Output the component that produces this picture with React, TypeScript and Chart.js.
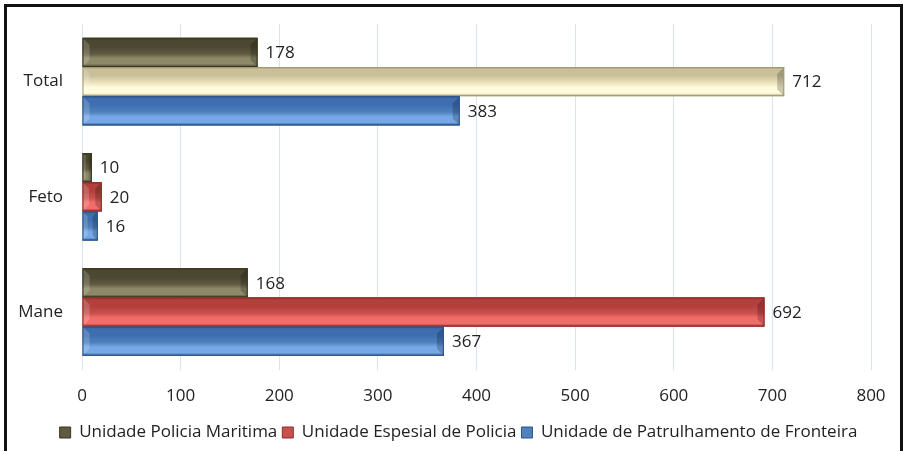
import React, { useEffect, useRef } from "react";
import { Chart, registerables } from "chart.js";

Chart.register(...registerables);

const categories = ["Total", "Feto", "Mane"];
const seriesNames = [
  "Unidade Policia Maritima",
  "Unidade Espesial de Policia",
  "Unidade de Patrulhamento de Fronteira",
];
const maritima = [178, 10, 168];
const espesial = [712, 20, 692];
const fronteira = [383, 16, 367];
const xTicks = [0, 100, 200, 300, 400, 500, 600, 700, 800];

const FONT = "'Open Sans', 'Noto Sans', sans-serif";

type Pal = { edge: string; dark: string; mid: string; light: string };
const olive: Pal = { edge: "#3a3722", dark: "#4b4731", mid: "#5f5a40", light: "#8d8867" };
const red: Pal = { edge: "#8e2f2c", dark: "#b3403c", mid: "#c9514d", light: "#f26d69" };
const cream: Pal = { edge: "#a39a74", dark: "#c9c09a", mid: "#ebe4be", light: "#fffbdc" };
const blue: Pal = { edge: "#2e5587", dark: "#3e6eb0", mid: "#4f81bd", light: "#76a8e8" };
const legendPals = [olive, red, blue];

function palFor(ds: number, idx: number): Pal {
  if (ds === 0) return olive;
  if (ds === 1) return idx === 0 ? cream : red;
  return blue;
}

const legendShift = {
  id: "legendShift",
  afterLayout(chart: any) {
    if (chart.legend) {
      chart.legend.left += 19;
      chart.legend.right += 19;
    }
  },
};

const bevelPlugin = {
  id: "bevel",
  afterDatasetsDraw(chart: any) {
    const ctx = chart.ctx;
    chart.data.datasets.forEach((d: any, di: number) => {
      const meta = chart.getDatasetMeta(di);
      meta.data.forEach((el: any, i: number) => {
        const p = el.getProps(["x", "y", "base", "height"], true);
        const left = Math.min(p.base, p.x);
        const right = Math.max(p.base, p.x);
        const top = p.y - p.height / 2;
        const bottom = p.y + p.height / 2;
        const h = bottom - top;
        const w = right - left;
        const pal = palFor(di, i);
        const g = ctx.createLinearGradient(0, top, 0, bottom);
        g.addColorStop(0, pal.edge);
        g.addColorStop(0.08, pal.dark);
        g.addColorStop(0.3, pal.dark);
        g.addColorStop(0.55, pal.mid);
        g.addColorStop(0.7, pal.light);
        g.addColorStop(0.9, pal.light);
        g.addColorStop(1, pal.edge);
        ctx.save();
        ctx.fillStyle = g;
        ctx.fillRect(left, top, w, h);
        const b = Math.min(7, w / 3, h / 3);
        ctx.fillStyle = "rgba(0,0,0,0.2)";
        ctx.beginPath();
        ctx.moveTo(right, top);
        ctx.lineTo(right - b, top + b);
        ctx.lineTo(right - b, bottom - b);
        ctx.lineTo(right, bottom);
        ctx.closePath();
        ctx.fill();
        ctx.fillStyle = "rgba(255,255,255,0.18)";
        ctx.beginPath();
        ctx.moveTo(left, top);
        ctx.lineTo(left + b, top + b);
        ctx.lineTo(left + b, bottom - b);
        ctx.lineTo(left, bottom);
        ctx.closePath();
        ctx.fill();
        ctx.strokeStyle = pal.edge;
        ctx.lineWidth = 1;
        ctx.strokeRect(left + 0.5, top + 0.5, w - 1, h - 1);
        ctx.fillStyle = "#222";
        ctx.font = `17px ${FONT}`;
        ctx.textAlign = "left";
        ctx.textBaseline = "middle";
        ctx.fillText(String(d.data[i]), right + 8, p.y + 1);
        ctx.restore();
      });
    });
  },
};

export default function App() {
  const ref = useRef<HTMLCanvasElement | null>(null);
  useEffect(() => {
    if (!ref.current) return;
    const chart = new Chart(ref.current, {
      type: "bar",
      data: {
        labels: categories,
        datasets: [
          { label: seriesNames[0], data: maritima, backgroundColor: olive.mid },
          {
            label: seriesNames[1],
            data: espesial,
            backgroundColor: (c: any) => (c.type === "data" && c.dataIndex === 0 ? cream.mid : red.mid),
          },
          { label: seriesNames[2], data: fronteira, backgroundColor: blue.mid },
        ],
      },
      options: {
        indexAxis: "y",
        animation: false,
        responsive: false,
        devicePixelRatio: 1,
        datasets: { bar: { barPercentage: 1, categoryPercentage: 0.76 } },
        layout: { padding: { left: 8, right: 32, top: 24, bottom: 0 } },
        scales: {
          x: {
            min: 0,
            max: 800,
            afterBuildTicks: (s: any) => {
              s.ticks = xTicks.map((v) => ({ value: v }));
            },
            afterFit: (s: any) => {
              s.height -= 3;
            },
            ticks: { font: { family: FONT, size: 17 }, color: "#222", padding: 16 },
            grid: { color: "#dbe3ee", drawTicks: false },
            border: { display: false },
          },
          y: {
            afterFit: (s: any) => {
              s.width = 74;
              s.paddingTop = 0;
              s.paddingBottom = 0;
            },
            ticks: { font: { family: FONT, size: 17 }, color: "#222", padding: 19 },
            grid: { display: false, drawTicks: false },
            border: { display: false },
          },
        },
        plugins: {
          legend: {
            position: "bottom",
            labels: {
              font: { family: FONT, size: 17 },
              color: "#222",
              boxWidth: 11,
              boxHeight: 11,
              padding: 5,
              generateLabels: (ch: any) =>
                ch.data.datasets.map((d: any, i: number) => ({
                  text: d.label,
                  fillStyle: legendPals[i].mid,
                  strokeStyle: legendPals[i].edge,
                  lineWidth: 1,
                  fontColor: "#222",
                  hidden: false,
                  datasetIndex: i,
                })),
            },
          },
          tooltip: { enabled: false },
        },
      },
      plugins: [bevelPlugin, legendShift],
    } as any);
    return () => chart.destroy();
  }, []);
  return (
    <div style={{ position: "fixed", left: 0, top: 0, width: 903, height: 451, background: "#fff", overflow: "hidden" }}>
      <div
        style={{
          position: "absolute",
          left: 4,
          top: 4,
          width: 899,
          height: 460,
          boxSizing: "border-box",
          borderTop: "3px solid #111",
          borderLeft: "3px solid #111",
          borderRight: "3px solid #111",
        }}
      />
      <canvas ref={ref} width={903} height={451} style={{ position: "absolute", left: 0, top: 0 }} />
    </div>
  );
}
